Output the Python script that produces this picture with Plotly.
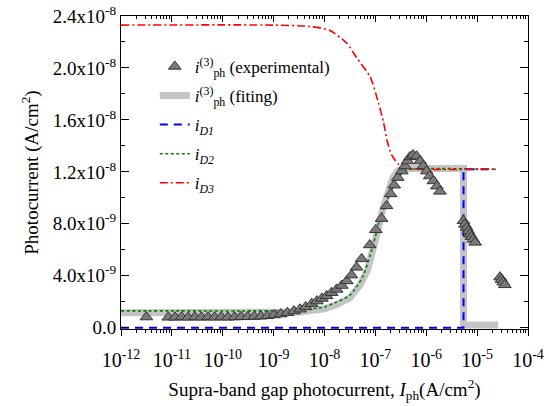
import plotly.graph_objects as go

# ---------------- data ----------------
exp_x = [3.16e-12, 8.51e-12, 1.15e-11, 1.55e-11, 2.09e-11, 2.82e-11, 3.80e-11, 5.13e-11,
         6.92e-11, 9.33e-11, 1.26e-10, 1.70e-10, 2.29e-10, 3.09e-10, 4.17e-10, 5.62e-10,
         7.59e-10, 1.02e-9, 1.38e-9, 1.86e-9, 2.51e-9, 3.31e-9, 4.27e-9, 5.62e-9, 7.08e-9,
         8.91e-9, 1.10e-8, 1.38e-8, 1.74e-8, 2.19e-8, 2.75e-8, 3.39e-8, 4.27e-8, 5.37e-8,
         7.76e-8, 1.02e-7, 1.32e-7, 1.66e-7, 2.00e-7, 2.34e-7, 2.75e-7, 3.31e-7, 3.80e-7,
         4.27e-7, 4.79e-7, 5.50e-7, 6.46e-7, 7.59e-7, 8.71e-7, 1.02e-6, 1.17e-6, 1.38e-6,
         1.62e-6, 1.86e-6, 5.37e-6, 5.75e-6, 6.24e-6, 6.76e-6, 7.24e-6, 7.76e-6, 8.41e-6,
         9.12e-6, 2.82e-5, 3.02e-5, 3.24e-5, 3.51e-5]
exp_y = [0.82e-9, 0.80e-9, 0.80e-9, 0.82e-9, 0.80e-9, 0.82e-9, 0.80e-9, 0.82e-9,
         0.80e-9, 0.82e-9, 0.80e-9, 0.82e-9, 0.84e-9, 0.84e-9, 0.86e-9, 0.88e-9,
         0.92e-9, 0.98e-9, 1.05e-9, 1.15e-9, 1.28e-9, 1.42e-9, 1.60e-9, 1.85e-9, 2.05e-9,
         2.25e-9, 2.45e-9, 2.70e-9, 2.95e-9, 3.25e-9, 3.60e-9, 4.05e-9, 4.65e-9, 5.30e-9,
         6.37e-9, 7.54e-9, 8.40e-9, 9.38e-9, 10.3e-9, 10.97e-9, 11.56e-9, 12.06e-9, 12.45e-9,
         12.83e-9, 13.15e-9, 13.30e-9, 13.20e-9, 12.83e-9, 12.45e-9, 12.06e-9, 11.68e-9, 11.30e-9,
         10.90e-9, 10.50e-9, 8.23e-9, 7.95e-9, 7.72e-9, 7.45e-9, 7.20e-9, 7.00e-9, 6.80e-9,
         6.57e-9, 3.89e-9, 3.70e-9, 3.50e-9, 3.30e-9]

fit_x = [1e-12, 1e-9, 3.16e-9, 1e-8, 1.78e-8, 3.16e-8, 5.01e-8, 7.08e-8, 8.91e-8, 1.12e-7,
         1.41e-7, 1.78e-7, 2.24e-7, 2.82e-7, 3.55e-7, 5.4e-6, 5.4e-6, 2.6e-5]
fit_y = [1.15e-9, 1.15e-9, 1.2e-9, 1.45e-9, 1.8e-9, 2.3e-9, 3.3e-9, 4.5e-9, 5.8e-9, 7.5e-9,
         9.2e-9, 10.6e-9, 11.6e-9, 12.1e-9, 12.25e-9, 12.25e-9, 0.2e-9, 0.2e-9]

d1_x = [1e-12, 5.4e-6, 5.4e-6, 2.3e-5]
d1_y = [0.0, 0.0, 12.2e-9, 12.2e-9]

d2_x = [1e-12, 1e-9, 3.16e-9, 1e-8, 1.58e-8, 3.16e-8, 5.62e-8, 7.94e-8, 1e-7, 1.26e-7,
        1.78e-7, 2.51e-7, 3.55e-7, 5.01e-7, 2.3e-5]
d2_y = [1.3e-9, 1.3e-9, 1.35e-9, 1.6e-9, 1.9e-9, 2.5e-9, 3.9e-9, 5.6e-9, 7.0e-9, 8.5e-9,
        10.0e-9, 11.2e-9, 12.0e-9, 12.2e-9, 12.2e-9]

d3_x = [1e-12, 1e-9, 5.01e-9, 1.26e-8, 2.75e-8, 4.27e-8, 7.94e-8, 1.15e-7, 1.45e-7, 1.70e-7,
        2.09e-7, 2.82e-7, 3.98e-7, 6.31e-7, 2.3e-5]
d3_y = [23.3e-9, 23.3e-9, 23.2e-9, 22.9e-9, 21.9e-9, 20.8e-9, 19.3e-9, 17.3e-9, 15.8e-9, 14.4e-9,
        13.3e-9, 12.6e-9, 12.3e-9, 12.2e-9, 12.2e-9]

x_tick_exp = [12, 11, 10, 9, 8, 7, 6, 5, 4]
y_tick_vals = [0, 4e-9, 8e-9, 12e-9, 16e-9, 20e-9, 24e-9]
y_tick_text = ["0.0", "4.0x10<sup>-9</sup>", "8.0x10<sup>-9</sup>", "1.2x10<sup>-8</sup>",
               "1.6x10<sup>-8</sup>", "2.0x10<sup>-8</sup>", "2.4x10<sup>-8</sup>"]

# ---------------- figure ----------------
FONT = "Liberation Serif"
fig = go.Figure()

fig.add_trace(go.Scatter(x=fit_x, y=fit_y, mode="lines", name="<i>i</i><sup>(3)</sup><sub>ph</sub> (fiting)",
                         line=dict(color="#c4c4c4", width=7), legendrank=2, legendgroup="b"))
fig.add_trace(go.Scatter(x=d1_x, y=d1_y, mode="lines", name="<i>i<sub>D1</sub></i>",
                         line=dict(color="#0000ff", width=2, dash="8px,6px"), legendrank=3, legendgroup="c"))
fig.add_trace(go.Scatter(x=d2_x, y=d2_y, mode="lines", name="<i>i<sub>D2</sub></i>",
                         line=dict(color="#008000", width=1.6, dash="3px,2.5px", shape="spline", smoothing=0.6),
                         legendrank=4, legendgroup="d"))
fig.add_trace(go.Scatter(x=d3_x, y=d3_y, mode="lines", name="<i>i<sub>D3</sub></i>",
                         line=dict(color="#ff0000", width=1.6, dash="8px,3px,2px,3px", shape="spline", smoothing=0.6),
                         legendrank=5, legendgroup="e"))
# experimental points drawn on the (identical) top axis so that axis is rendered
fig.add_trace(go.Scatter(x=exp_x, y=exp_y, mode="markers", xaxis="x2",
                         name="<i>i</i><sup>(3)</sup><sub>ph</sub> (experimental)",
                         marker=dict(symbol="triangle-up", size=11, color="#7a7a7a",
                                     line=dict(color="#333333", width=1)), legendrank=1, legendgroup="a"))

alias = {"10<sup>\u2212%d</sup>" % e: "10<sup>-%d</sup>" % e for e in x_tick_exp}

fig.update_layout(
    width=549, height=406,
    margin=dict(l=121, r=21, t=16, b=77),
    paper_bgcolor="white", plot_bgcolor="white",
    font=dict(family=FONT, size=17, color="black"),
    showlegend=True,
    legend=dict(x=0.083, y=0.895, xanchor="left", yanchor="top",
                bgcolor="rgba(0,0,0,0)", font=dict(family=FONT, size=17), tracegroupgap=4),
    xaxis=dict(type="log", range=[-12, -4], showgrid=False, zeroline=False, automargin=False,
               showline=True, linecolor="black", linewidth=1, mirror=True,
               ticks="outside", ticklen=6, tickwidth=1, tickcolor="black",
               tickmode="linear", tick0=0, dtick=1, exponentformat="power", showexponent="all",
               labelalias=alias, ticklabeloverflow="allow",
               tickfont=dict(family=FONT, size=16), ticklabelstandoff=8,
               minor=dict(ticks="outside", ticklen=3, tickcolor="black", dtick="D1", showgrid=False),
               title=dict(text="Supra-band gap photocurrent, <i>I</i><sub>ph</sub>(A/cm<sup>2</sup>)",
                          font=dict(family=FONT, size=19), standoff=12)),
    xaxis2=dict(type="log", range=[-12, -4], overlaying="x", side="top", anchor="y", automargin=False,
                showgrid=False, zeroline=False, showline=False, showticklabels=False,
                ticks="inside", ticklen=6, tickwidth=1, tickcolor="black",
                tickmode="linear", tick0=0, dtick=1,
                minor=dict(ticks="inside", ticklen=3, tickcolor="black", dtick="D1", showgrid=False)),
    yaxis=dict(range=[-0.1e-9, 24e-9], showgrid=False, zeroline=False, automargin=False,
               showline=True, linecolor="black", linewidth=1, mirror="ticks",
               ticks="inside", ticklen=8, tickwidth=1, tickcolor="black",
               tickvals=y_tick_vals, ticktext=y_tick_text, tickfont=dict(family=FONT, size=19),
               ticklabeloverflow="allow",
               minor=dict(ticks="inside", ticklen=4, tickcolor="black", dtick=2e-9, tick0=0),
               title=dict(text="Photocurrent (A/cm<sup>2</sup>)", font=dict(family=FONT, size=19), standoff=9)),
)

# remove the browser's default 8px page margin so the figure sits at the window origin
fig.write_html("out.html", config={"displayModeBar": False},
               post_script="document.body.style.margin='0px';")
